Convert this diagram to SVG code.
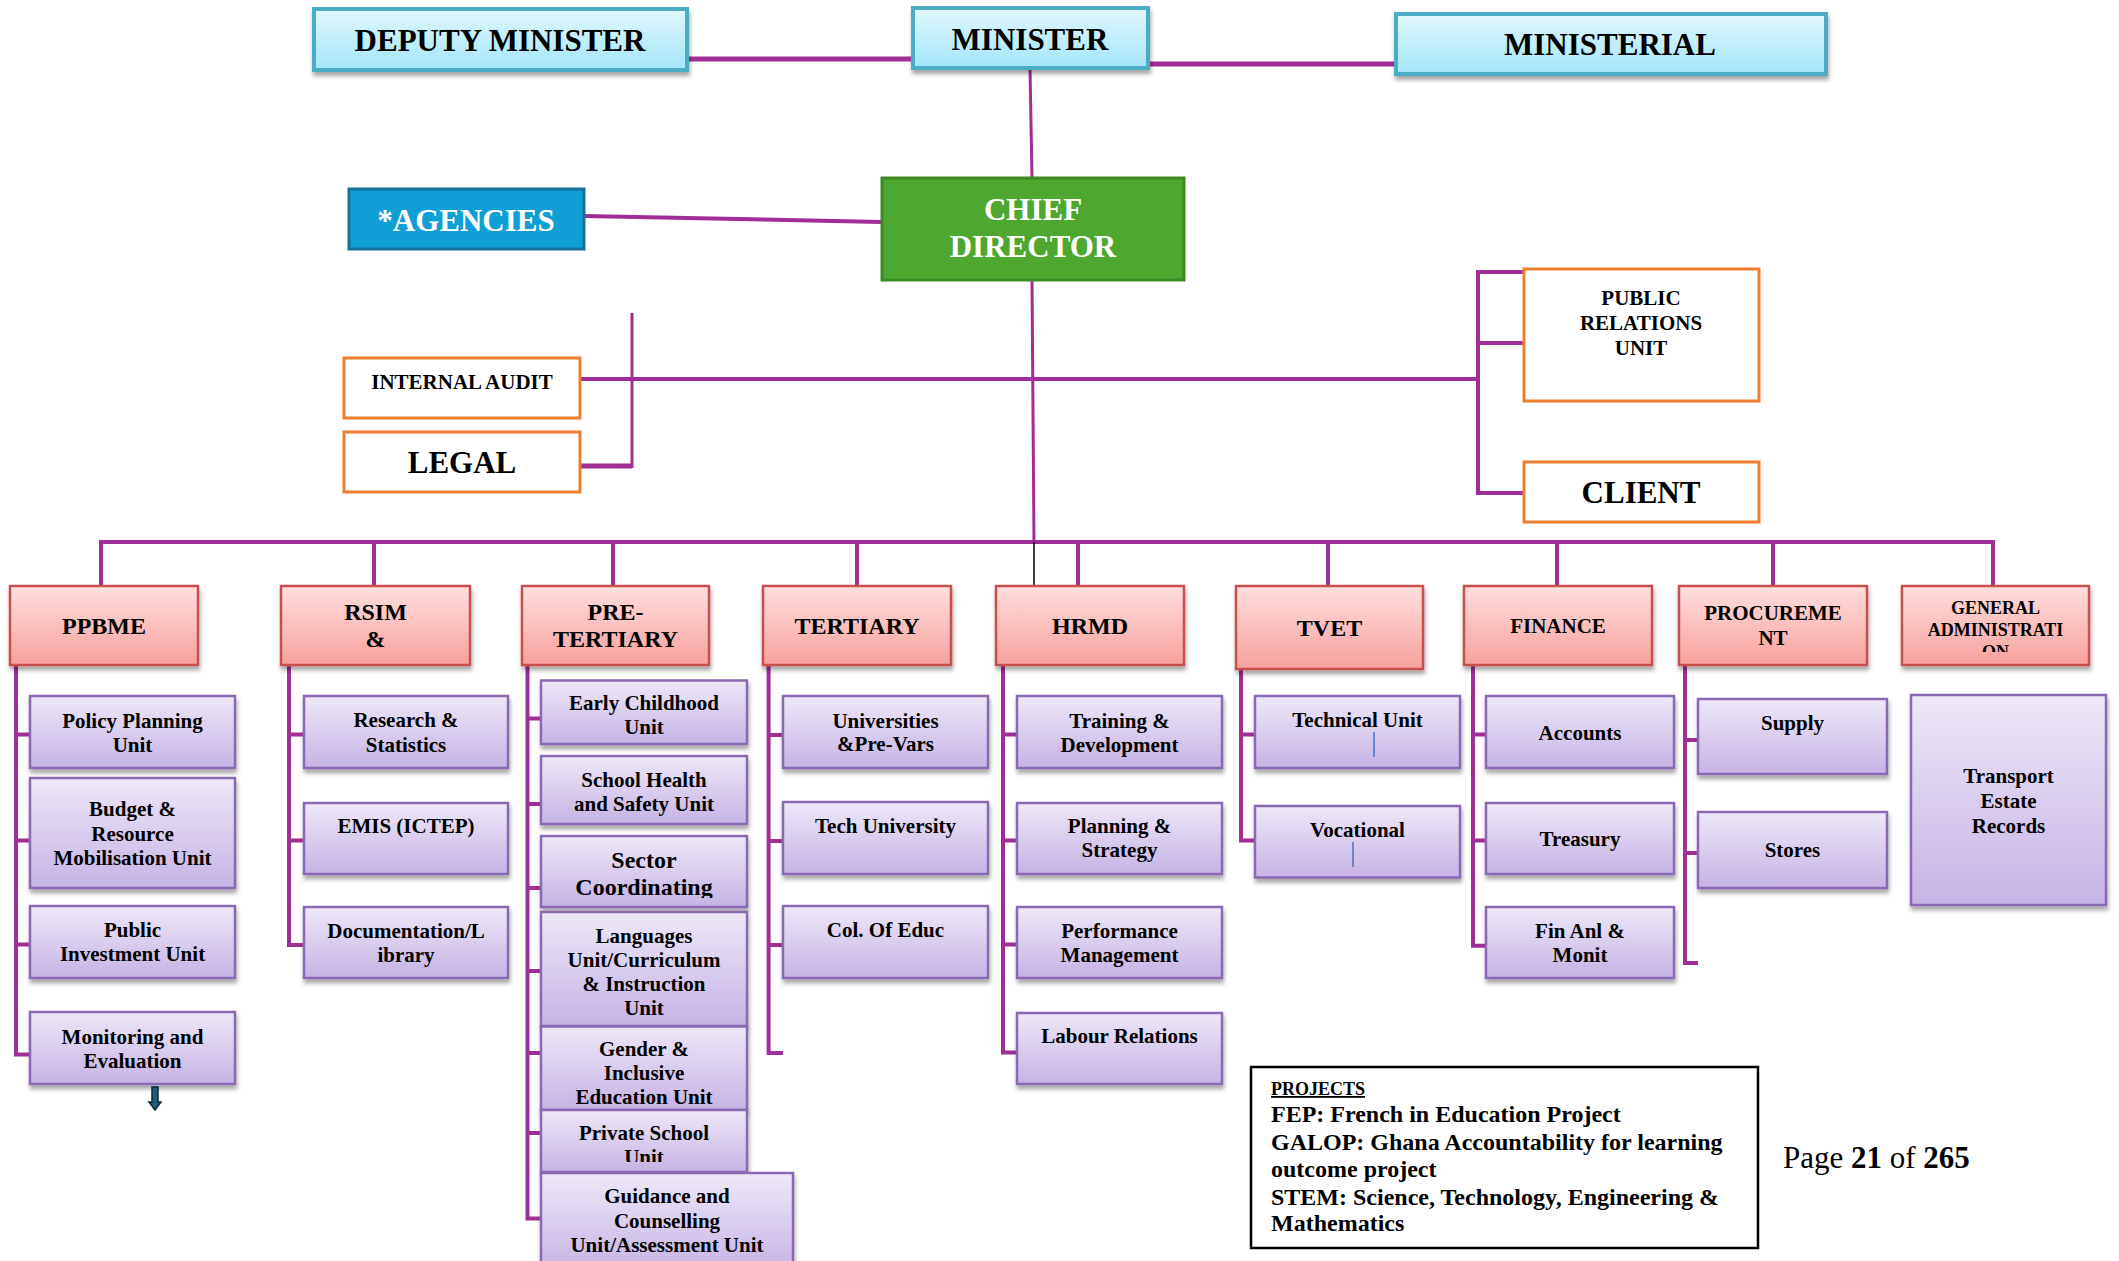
<svg xmlns="http://www.w3.org/2000/svg" width="2119" height="1261" viewBox="0 0 2119 1261">
<defs>
<linearGradient id="gTop" x1="0" y1="0" x2="0" y2="1"><stop offset="0" stop-color="#E2F7FD"/><stop offset="1" stop-color="#A3E6FA"/></linearGradient>
<linearGradient id="gHead" x1="0" y1="0" x2="0" y2="1"><stop offset="0" stop-color="#FFDEDE"/><stop offset="1" stop-color="#F7A19D"/></linearGradient>
<linearGradient id="gChild" x1="0" y1="0" x2="0" y2="1"><stop offset="0" stop-color="#EEE8F8"/><stop offset="1" stop-color="#C6B3E5"/></linearGradient>
<filter id="sh" x="-10%" y="-10%" width="125%" height="140%"><feDropShadow dx="1" dy="4" stdDeviation="2" flood-color="#000" flood-opacity="0.35"/></filter>
<clipPath id="cpSector"><rect x="541" y="836" width="206" height="62"/></clipPath>
<clipPath id="cpPrivate"><rect x="541" y="1110" width="206" height="52"/></clipPath>
<clipPath id="cpGen"><rect x="1902" y="586" width="187" height="66"/></clipPath>
</defs>
<style>
.c{stroke:#A12E96;fill:none;stroke-width:4}
.c3{stroke:#A12E96;fill:none;stroke-width:3}
.c5{stroke:#A12E96;fill:none;stroke-width:5}
.top{fill:url(#gTop);stroke:#4BACC6;stroke-width:4;filter:url(#sh)}
.head{fill:url(#gHead);stroke:#C9504D;stroke-width:2.5;filter:url(#sh)}
.child{fill:url(#gChild);stroke:#8A68B4;stroke-width:2.5;filter:url(#sh)}
.side{fill:#fff;stroke:#ED7D31;stroke-width:3}
text{font-family:"Liberation Serif","Times New Roman",serif;font-weight:bold;text-anchor:middle;fill:#000}
.f31{font-size:31px}
.f24{font-size:24px}
.f21{font-size:21px}
.f18{font-size:18px}
.w{fill:#fff}
</style>
<rect width="2119" height="1261" fill="#fff"/>

<g id="connectors">
<line class="c5" x1="687" y1="59" x2="913" y2="59"/>
<line class="c5" x1="1148" y1="64" x2="1396" y2="64"/>
<line class="c3" x1="1030" y1="68" x2="1032" y2="178"/>
<line class="c" x1="584" y1="216" x2="882" y2="222"/>
<line class="c3" x1="1032" y1="280" x2="1034" y2="542"/>
<line class="c" x1="580" y1="379" x2="1478" y2="379"/>
<line class="c3" x1="632" y1="313" x2="632" y2="468"/>
<line class="c5" x1="580" y1="466" x2="632" y2="466"/>
<path class="c" d="M1524,272 H1478 V493 H1524 M1478,343 H1524"/>
<line class="c" x1="99" y1="542" x2="1995" y2="542"/>
<path class="c" d="M101,542V586 M374,542V586 M613,542V586 M857,542V586 M1078,542V586 M1328,542V586 M1557,542V586 M1773,542V586 M1993,542V586"/>
<line x1="1034" y1="542" x2="1034" y2="586" stroke="#000" stroke-width="1.5"/>
<path class="c" d="M16,665V1054.5H30 M16,734.6H30 M16,840.6H30 M16,944.6H30"/>
<path class="c" d="M289,665V945H304 M289,734.6H304 M289,840.6H304"/>
<path class="c" d="M527.5,665V1218.5H541 M527.5,718.5H541 M527.5,804H541 M527.5,888H541 M527.5,971H541 M527.5,1053H541 M527.5,1133H541"/>
<path class="c" d="M768.6,665V1053H783 M768.6,735H783 M768.6,841H783 M768.6,945H783"/>
<path class="c" d="M1003,665V1052.5H1017 M1003,734.6H1017 M1003,840.6H1017 M1003,944.6H1017"/>
<path class="c" d="M1241,669V840.6H1255 M1241,734.6H1255"/>
<path class="c" d="M1473,665V945.7H1486 M1473,734.6H1486 M1473,840.6H1486"/>
<path class="c" d="M1685,665V963H1698 M1685,740H1698 M1685,853H1698"/>
</g>

<g id="deputy-minister"><rect class="top" x="314" y="9" width="373" height="61"/><text class="f31" x="500" y="51">DEPUTY MINISTER</text></g>
<g id="minister"><rect class="top" x="913" y="8" width="235" height="60"/><text class="f31" x="1030" y="50">MINISTER</text></g>
<g id="ministerial"><rect class="top" x="1396" y="14" width="430" height="60"/><text class="f31" x="1610" y="55">MINISTERIAL</text></g>
<g id="chief-director"><rect x="882" y="178" width="302" height="102" fill="#4EA72E" stroke="#3D8A25" stroke-width="3"/><text class="f31 w" x="1033" y="220">CHIEF</text><text class="f31 w" x="1033" y="257">DIRECTOR</text></g>
<g id="agencies"><rect x="349" y="189" width="235" height="60" fill="#0F9ED5" stroke="#15709C" stroke-width="3"/><text class="f31 w" x="466" y="231">*AGENCIES</text></g>
<g id="internal-audit"><rect class="side" x="344" y="358" width="236" height="60"/><text class="f21" x="462" y="389">INTERNAL AUDIT</text></g>
<g id="legal"><rect class="side" x="344" y="432" width="236" height="60"/><text class="f31" x="462" y="473">LEGAL</text></g>
<g id="public-relations"><rect class="side" x="1524" y="269" width="235" height="132"/><text class="f21" x="1641" y="305">PUBLIC</text><text class="f21" x="1641" y="330">RELATIONS</text><text class="f21" x="1641" y="355">UNIT</text></g>
<g id="client"><rect class="side" x="1524" y="462" width="235" height="60"/><text class="f31" x="1641" y="503">CLIENT</text></g>

<g id="ppbme"><rect class="head" x="10" y="586" width="188" height="79"/><text class="f24" x="104" y="634">PPBME</text></g>
<g id="rsim"><rect class="head" x="281" y="586" width="189" height="79"/><text class="f24" x="375.5" y="620">RSIM</text><text class="f24" x="375.5" y="647">&amp;</text></g>
<g id="pre-tertiary"><rect class="head" x="522" y="586" width="187" height="79"/><text class="f24" x="615.5" y="620">PRE-</text><text class="f24" x="615.5" y="647">TERTIARY</text></g>
<g id="tertiary"><rect class="head" x="763" y="586" width="188" height="79"/><text class="f24" x="857" y="634">TERTIARY</text></g>
<g id="hrmd"><rect class="head" x="996" y="586" width="188" height="79"/><text class="f24" x="1090" y="634">HRMD</text></g>
<g id="tvet"><rect class="head" x="1236" y="586" width="187" height="83"/><text class="f24" x="1329.5" y="636">TVET</text></g>
<g id="finance"><rect class="head" x="1464" y="586" width="188" height="79"/><text class="f21" x="1558" y="633">FINANCE</text></g>
<g id="procurement"><rect class="head" x="1679" y="586" width="188" height="79"/><text class="f21" x="1773" y="620">PROCUREME</text><text class="f21" x="1773" y="645">NT</text></g>
<g id="general-administration"><rect class="head" x="1902" y="586" width="187" height="79"/><g clip-path="url(#cpGen)"><text class="f18" x="1995.5" y="614">GENERAL</text><text class="f18" x="1995.5" y="636">ADMINISTRATI</text><text class="f18" x="1995.5" y="658">ON</text></g></g>

<g id="policy-planning"><rect class="child" x="30" y="696" width="205" height="72"/><text class="f21" x="132.5" y="728">Policy Planning</text><text class="f21" x="132.5" y="752">Unit</text></g>
<g id="budget"><rect class="child" x="30" y="778" width="205" height="110"/><text class="f21" x="132.5" y="816">Budget &amp;</text><text class="f21" x="132.5" y="841">Resource</text><text class="f21" x="132.5" y="865">Mobilisation Unit</text></g>
<g id="public-investment"><rect class="child" x="30" y="906" width="205" height="72"/><text class="f21" x="132.5" y="937">Public</text><text class="f21" x="132.5" y="961">Investment Unit</text></g>
<g id="monitoring"><rect class="child" x="30" y="1012" width="205" height="72"/><text class="f21" x="132.5" y="1044">Monitoring and</text><text class="f21" x="132.5" y="1068">Evaluation</text></g>
<g id="down-arrow"><path d="M152,1087h6v15h3l-6,8l-6,-8h3z" fill="#1F5C7A" stroke="#0B2A3A" stroke-width="1.5"/></g>

<g id="research"><rect class="child" x="304" y="696" width="204" height="72"/><text class="f21" x="406" y="727">Research &amp;</text><text class="f21" x="406" y="752">Statistics</text></g>
<g id="emis"><rect class="child" x="304" y="803" width="204" height="71"/><text class="f21" x="406" y="833">EMIS (ICTEP)</text></g>
<g id="documentation"><rect class="child" x="304" y="907" width="204" height="71"/><text class="f21" x="406" y="938">Documentation/L</text><text class="f21" x="406" y="962">ibrary</text></g>

<g id="early-childhood"><rect class="child" x="541" y="680.5" width="206" height="63.5"/><text class="f21" x="644" y="710">Early Childhood</text><text class="f21" x="644" y="734">Unit</text></g>
<g id="school-health"><rect class="child" x="541" y="756" width="206" height="68"/><text class="f21" x="644" y="787">School Health</text><text class="f21" x="644" y="811">and Safety Unit</text></g>
<g id="sector-coordinating"><rect class="child" x="541" y="836" width="206" height="71"/><g clip-path="url(#cpSector)"><text class="f24" x="644" y="868">Sector</text><text class="f24" x="644" y="895">Coordinating</text></g></g>
<g id="languages"><rect class="child" x="541" y="912" width="206" height="114"/><text class="f21" x="644" y="943">Languages</text><text class="f21" x="644" y="967">Unit/Curriculum</text><text class="f21" x="644" y="991">&amp; Instruction</text><text class="f21" x="644" y="1015">Unit</text></g>
<g id="gender"><rect class="child" x="541" y="1026.5" width="206" height="83.5"/><text class="f21" x="644" y="1056">Gender &amp;</text><text class="f21" x="644" y="1080">Inclusive</text><text class="f21" x="644" y="1104">Education Unit</text></g>
<g id="private-school"><rect class="child" x="541" y="1110" width="206" height="62"/><g clip-path="url(#cpPrivate)"><text class="f21" x="644" y="1140">Private School</text><text class="f21" x="644" y="1164">Unit</text></g></g>
<g id="guidance"><rect class="child" x="541" y="1173" width="252" height="100"/><text class="f21" x="667" y="1203">Guidance and</text><text class="f21" x="667" y="1228">Counselling</text><text class="f21" x="667" y="1252">Unit/Assessment Unit</text></g>

<g id="universities"><rect class="child" x="783" y="696" width="205" height="72"/><text class="f21" x="885.5" y="728">Universities</text><text class="f21" x="885.5" y="751">&amp;Pre-Vars</text></g>
<g id="tech-university"><rect class="child" x="783" y="802" width="205" height="72"/><text class="f21" x="885.5" y="833">Tech University</text></g>
<g id="col-of-educ"><rect class="child" x="783" y="906" width="205" height="72"/><text class="f21" x="885.5" y="937">Col. Of Educ</text></g>

<g id="training"><rect class="child" x="1017" y="696" width="205" height="72"/><text class="f21" x="1119.5" y="728">Training &amp;</text><text class="f21" x="1119.5" y="752">Development</text></g>
<g id="planning"><rect class="child" x="1017" y="803" width="205" height="71"/><text class="f21" x="1119.5" y="833">Planning &amp;</text><text class="f21" x="1119.5" y="857">Strategy</text></g>
<g id="performance"><rect class="child" x="1017" y="907" width="205" height="71"/><text class="f21" x="1119.5" y="938">Performance</text><text class="f21" x="1119.5" y="962">Management</text></g>
<g id="labour"><rect class="child" x="1017" y="1013" width="205" height="71"/><text class="f21" x="1119.5" y="1043">Labour Relations</text></g>

<g id="technical-unit"><rect class="child" x="1255" y="696" width="205" height="72"/><text class="f21" x="1357.5" y="727">Technical Unit</text><line x1="1374" y1="732" x2="1374" y2="757" stroke="#4472C4" stroke-width="1.5"/></g>
<g id="vocational"><rect class="child" x="1255" y="806" width="205" height="71.5"/><text class="f21" x="1357.5" y="837">Vocational</text><line x1="1353" y1="842" x2="1353" y2="867" stroke="#4472C4" stroke-width="1.5"/></g>

<g id="accounts"><rect class="child" x="1486" y="696" width="188" height="72"/><text class="f21" x="1580" y="740">Accounts</text></g>
<g id="treasury"><rect class="child" x="1486" y="803" width="188" height="71"/><text class="f21" x="1580" y="846">Treasury</text></g>
<g id="fin-anl"><rect class="child" x="1486" y="907" width="188" height="71"/><text class="f21" x="1580" y="938">Fin Anl &amp;</text><text class="f21" x="1580" y="962">Monit</text></g>

<g id="supply"><rect class="child" x="1698" y="699" width="189" height="75"/><text class="f21" x="1792.5" y="730">Supply</text></g>
<g id="stores"><rect class="child" x="1698" y="812" width="189" height="76"/><text class="f21" x="1792.5" y="857">Stores</text></g>

<g id="transport"><rect class="child" x="1911" y="695" width="195" height="210"/><text class="f21" x="2008.5" y="783">Transport</text><text class="f21" x="2008.5" y="808">Estate</text><text class="f21" x="2008.5" y="833">Records</text></g>

<g id="projects"><rect x="1251" y="1067" width="507" height="181" fill="#fff" stroke="#000" stroke-width="2.5"/>
<text x="1271" y="1095" style="font-size:18px;text-anchor:start;text-decoration:underline">PROJECTS</text>
<text class="f24" x="1271" y="1122" style="text-anchor:start">FEP: French in Education Project</text>
<text class="f24" x="1271" y="1150" style="text-anchor:start">GALOP: Ghana Accountability for learning</text>
<text class="f24" x="1271" y="1177" style="text-anchor:start">outcome project</text>
<text class="f24" x="1271" y="1205" style="text-anchor:start">STEM: Science, Technology, Engineering &amp;</text>
<text class="f24" x="1271" y="1231" style="text-anchor:start">Mathematics</text>
</g>
<g id="page"><text x="1783" y="1168" style="font-size:31px;font-weight:normal;text-anchor:start">Page <tspan font-weight="bold">21</tspan> of <tspan font-weight="bold">265</tspan></text></g>
</svg>
